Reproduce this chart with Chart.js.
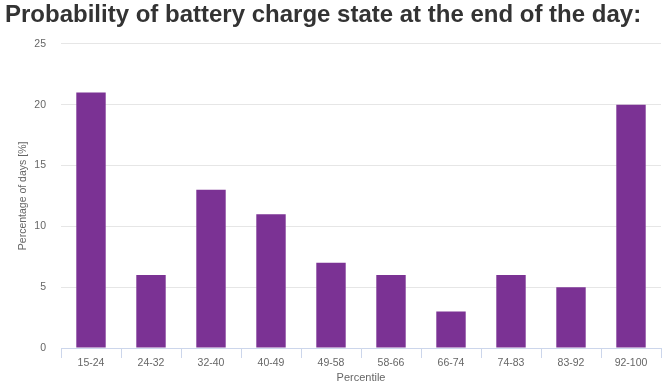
<!DOCTYPE html>
<html>
<head>
<meta charset="utf-8">
<script src="https://cdn.jsdelivr.net/npm/chart.js@4"></script>
<style>
    html, body { margin: 0; padding: 0; background: #fff; }
    #wrap { width: 671px; height: 387px; position: relative; }
</style>
</head>
<body>
<div id="wrap"><canvas id="chart"></canvas></div>
<script>
const categories = ['15-24', '24-32', '32-40', '40-49', '49-58', '58-66', '66-74', '74-83', '83-92', '92-100'];
const percentDays = [21, 6, 13, 11, 7, 6, 3, 6, 5, 20];
const yTicks = [0, 5, 10, 15, 20, 25];

const font = "'Liberation Sans', Arial, sans-serif";

const ctx = document.getElementById('chart').getContext('2d');
new Chart(ctx, {
    type: 'bar',
    data: {
        labels: categories,
        datasets: [{
            label: 'Percentage of days',
            data: percentDays,
            backgroundColor: '#7b3294',
            borderWidth: 0,
            barPercentage: 0.49,
            categoryPercentage: 1
        }]
    },
    options: {
        responsive: true,
        maintainAspectRatio: false,
        animation: false,
        layout: { padding: { left: 5, right: 10, top: 0, bottom: 0 } },
        plugins: {
            legend: { display: false },
            tooltip: { enabled: false },
            title: {
                display: true,
                text: 'Probability of battery charge state at the end of the day:',
                align: 'start',
                color: '#333333',
                font: { family: font, size: 24, weight: 'bold' },
                padding: { top: 1, bottom: 14 }
            }
        },
        scales: {
            x: {
                grid: {
                    drawOnChartArea: false,
                    color: '#ccd6eb',
                    tickLength: 10,
                    offset: true
                },
                border: { color: '#ccd6eb' },
                ticks: {
                    color: '#666666',
                    font: { family: font, size: 10.5 },
                    padding: -1,
                    maxRotation: 0
                },
                title: {
                    display: true,
                    text: 'Percentile',
                    color: '#666666',
                    font: { family: font, size: 11 },
                    padding: { top: 0, bottom: 2 }
                },
                afterFit: scale => { scale.height = 39; }
            },
            y: {
                min: 0,
                max: 25,
                afterBuildTicks: scale => {
                    scale.ticks = yTicks.map(v => ({ value: v }));
                },
                grid: {
                    color: '#e6e6e6',
                    drawTicks: false
                },
                border: { display: false },
                ticks: {
                    color: '#666666',
                    font: { family: font, size: 10.5 },
                    padding: 15
                },
                title: {
                    display: true,
                    text: 'Percentage of days [%]',
                    color: '#666666',
                    font: { family: font, size: 10.5 },
                    padding: { top: 12, bottom: 0 }
                },
                afterFit: scale => { scale.width = 56; }
            }
        }
    }
});
</script>
</body>
</html>
